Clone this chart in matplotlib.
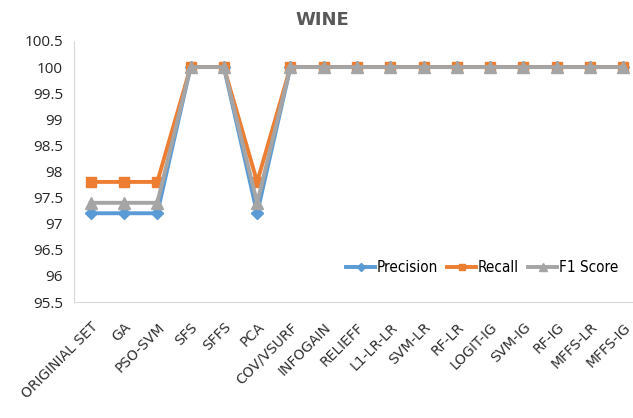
import matplotlib
matplotlib.use("Agg")
import matplotlib.pyplot as plt

methods = ["ORIGINIAL SET", "GA", "PSO-SVM", "SFS", "SFFS", "PCA", "COV/VSURF",
           "INFOGAIN", "RELIEFF", "L1-LR-LR", "SVM-LR", "RF-LR", "LOGIT-IG",
           "SVM-IG", "RF-IG", "MFFS-LR", "MFFS-IG"]
precision = [97.2, 97.2, 97.2, 100, 100, 97.2, 100, 100, 100, 100, 100, 100, 100, 100, 100, 100, 100]
recall = [97.8, 97.8, 97.8, 100, 100, 97.8, 100, 100, 100, 100, 100, 100, 100, 100, 100, 100, 100]
f1 = [97.4, 97.4, 97.4, 100, 100, 97.4, 100, 100, 100, 100, 100, 100, 100, 100, 100, 100, 100]
yticks = [95.5, 96, 96.5, 97, 97.5, 98, 98.5, 99, 99.5, 100, 100.5]

plt.rcParams['font.family'] = ['Open Sans', 'DejaVu Sans']

fig = plt.figure(figsize=(6.33, 4.18), dpi=100)
ax = fig.add_axes([0.117, 0.2775, 0.894, 0.6245])

x = list(range(len(methods)))
ax.plot(x, precision, color="#5B9BD5", lw=2.8, marker="D", ms=6, label="Precision")
ax.plot(x, recall, color="#ED7D31", lw=2.8, marker="s", ms=7, label="Recall")
ax.plot(x, f1, color="#A5A5A5", lw=2.8, marker="^", ms=8, label="F1 Score")

ax.set_xlim(-0.5, len(methods) - 0.5)
ax.set_ylim(95.5, 100.5)
ax.set_yticks(yticks)
ax.set_yticklabels([f"{v:g}" for v in yticks], fontsize=11, color="#262626")
ax.set_xticks(x)
ax.set_xticklabels(methods, rotation=45, ha="right", rotation_mode="anchor",
                   fontsize=10, family="DejaVu Sans", color="#303030")
ax.tick_params(axis="y", length=0, pad=8)
ax.tick_params(axis="x", length=0, pad=13)

for s in ["top", "right"]:
    ax.spines[s].set_visible(False)
for s in ["left", "bottom"]:
    ax.spines[s].set_color("#D9D9D9")

fig.text(0.51, 0.952, "WINE", fontsize=13, fontweight="bold", color="#595959",
         family="DejaVu Sans", ha="center", va="center")
ax.legend(loc="center right", bbox_to_anchor=(0.998, 0.359), bbox_transform=fig.transFigure,
          ncol=3, frameon=False, handlelength=1.9, markerscale=0.7,
          columnspacing=0.6, handletextpad=0.1,
          prop={"family": "DejaVu Sans", "stretch": "condensed", "size": 11})

fig.savefig("out.png", dpi=100)
